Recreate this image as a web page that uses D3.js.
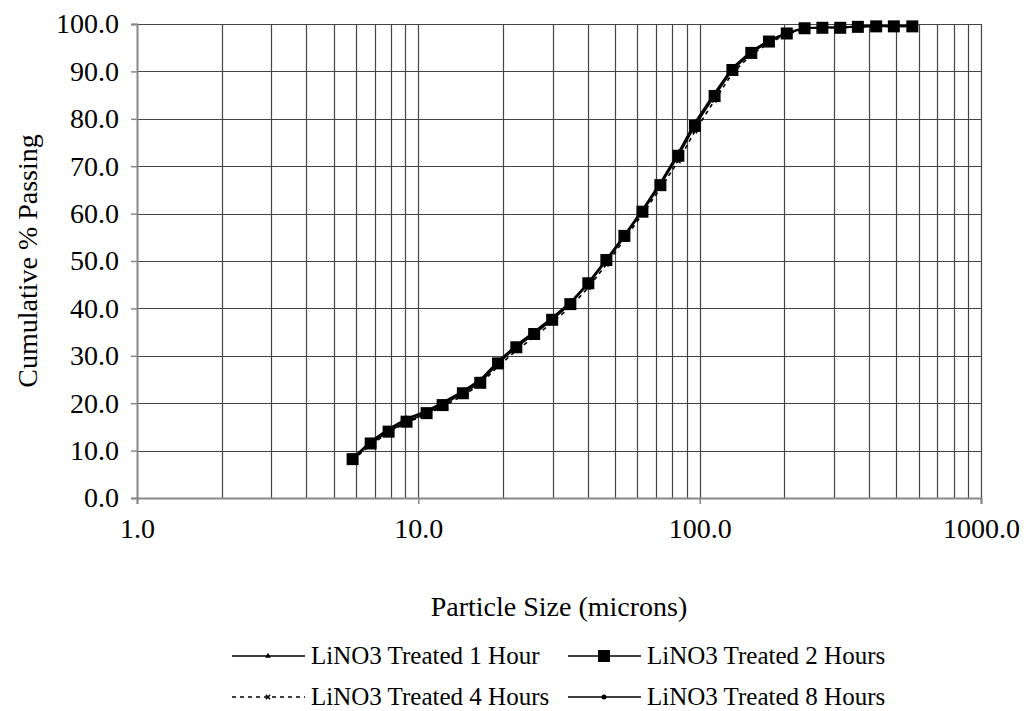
<!DOCTYPE html>
<html>
<head>
<meta charset="utf-8">
<script src="https://cdn.jsdelivr.net/npm/d3@7"></script>
<style>
  body { margin: 0; background: #fff; }
  svg text { font-family: "Times New Roman", "Liberation Serif", "DejaVu Serif", serif; fill: #000; }
</style>
</head>
<body>
<div id="chart"></div>
<script>
// particle sizes (microns), same for every run
var sizes = [5.84, 6.77, 7.84, 9.08, 10.7, 12.2, 14.4, 16.6, 19.2, 22.3, 25.8, 29.9, 34.7, 40.2, 46.6, 54.0,
  62.6, 72.5, 84.0, 96.2, 113, 130.7, 152.6, 176.3, 204, 236, 273, 316, 365, 424, 490, 570];

// cumulative % passing per treatment time
var hour1 = [8.4, 12.0, 14.6, 16.8, 18.4, 20.2, 22.6, 25.0, 28.9, 32.3, 35.1, 38.1, 41.3, 45.5, 50.4, 55.5,
  60.9, 66.6, 72.9, 79.3, 85.5, 90.8, 94.3, 96.6, 98.2, 99.2, 99.3, 99.3, 99.5, 99.6, 99.6, 99.6];
var hour2 = [8.2, 11.5, 14.0, 16.1, 17.9, 19.6, 22.1, 24.3, 28.4, 31.8, 34.6, 37.6, 40.9, 45.3, 50.2, 55.3,
  60.4, 66.0, 72.2, 78.5, 84.8, 90.3, 93.9, 96.3, 98.0, 99.1, 99.2, 99.2, 99.4, 99.5, 99.5, 99.5];
var hour4 = [8.0, 11.2, 13.8, 15.9, 17.6, 19.3, 21.6, 24.0, 27.8, 31.1, 34.0, 37.0, 40.3, 44.4, 49.3, 54.5,
  59.9, 65.3, 71.1, 77.4, 83.9, 89.6, 93.5, 96.0, 97.8, 99.0, 99.2, 99.2, 99.4, 99.5, 99.5, 99.5];
var hour8 = [8.3, 11.8, 14.3, 16.5, 18.2, 19.9, 22.4, 24.7, 28.6, 32.0, 34.8, 37.9, 41.1, 45.1, 50.0, 55.0,
  60.6, 66.3, 72.6, 78.9, 85.2, 90.6, 94.1, 96.4, 98.1, 99.1, 99.3, 99.3, 99.5, 99.6, 99.6, 99.6];

var seriesNames = ["LiNO3 Treated 1 Hour", "LiNO3 Treated 2 Hours", "LiNO3 Treated 4 Hours", "LiNO3 Treated 8 Hours"];
var xTicks = [1, 10, 100, 1000];
var yTicks = [0, 10, 20, 30, 40, 50, 60, 70, 80, 90, 100];

var fontName = "'Times New Roman', 'Liberation Serif', 'DejaVu Serif', serif";
var areaWidth = 1026;
var areaHeight = 711;
// plot box (window.top is taken, so use own names)
var plotLeft = 137, plotRight = 981, plotTop = 24, plotBottom = 498;

var svg = d3.select("#chart").append("svg")
  .attr("width", areaWidth)
  .attr("height", areaHeight);

var xScale = d3.scaleLog().domain([1, 1000]).range([plotLeft, plotRight]);
var yScale = d3.scaleLinear().domain([0, 100]).range([plotBottom, plotTop]);

// log grid: 1..9 in every decade
var minorX = [];
[1, 10, 100].forEach(function (dec) {
  for (var k = 1; k <= 9; k++) minorX.push(dec * k);
});
minorX.push(1000);

svg.append("g")
  .selectAll("line")
  .data(minorX.filter(function (d) { return d > 1; }))
  .enter()
  .append("line")
  .attr("x1", function (d) { return Math.round(xScale(d)) + 0.5; })
  .attr("x2", function (d) { return Math.round(xScale(d)) + 0.5; })
  .attr("y1", plotTop)
  .attr("y2", plotBottom)
  .style("stroke", "#444")
  .style("stroke-width", 1.2);

svg.append("g")
  .selectAll("line")
  .data(yTicks.filter(function (d) { return d > 0; }))
  .enter()
  .append("line")
  .attr("x1", plotLeft)
  .attr("x2", plotRight)
  .attr("y1", function (d) { return Math.round(yScale(d)) + 0.5; })
  .attr("y2", function (d) { return Math.round(yScale(d)) + 0.5; })
  .style("stroke", "#444")
  .style("stroke-width", 1.2);

// axes
var yAxis = d3.axisLeft(yScale)
  .tickValues(yTicks)
  .tickSize(6)
  .tickPadding(12)
  .tickFormat(d3.format(".1f"));

var xAxis = d3.axisBottom(xScale)
  .tickValues(xTicks)
  .tickSize(6)
  .tickPadding(14)
  .tickFormat(d3.format(".1f"));

var gy = svg.append("g").attr("transform", "translate(" + plotLeft + ",0)").call(yAxis);
var gx = svg.append("g").attr("transform", "translate(0," + plotBottom + ")").call(xAxis);

[gx, gy].forEach(function (g) {
  g.attr("font-family", null).attr("font-size", null);
  g.select(".domain").style("stroke", "#888").style("stroke-width", 2);
  g.selectAll(".tick line").style("stroke", "#888").style("stroke-width", 1.5);
  g.selectAll(".tick text")
    .style("font-size", "28px")
    .style("font-family", fontName)
    .style("fill", "#000");
});

// axis titles
svg.append("text")
  .text("Particle Size (microns)")
  .attr("x", (plotLeft + plotRight) / 2)
  .attr("y", 616)
  .attr("text-anchor", "middle")
  .style("font-family", fontName)
  .style("font-size", "28px");

svg.append("text")
  .text("Cumulative % Passing")
  .attr("transform", "translate(37," + ((plotTop + plotBottom) / 2) + ") rotate(-90)")
  .attr("text-anchor", "middle")
  .style("font-family", fontName)
  .style("font-size", "28px");

// series lines and markers
var allSeries = [hour1, hour2, hour4, hour8];
var dashes = [null, null, "4,4", null];

var line = d3.line()
  .x(function (d) { return xScale(d[0]); })
  .y(function (d) { return yScale(d[1]); });

function drawMarker(g, kind, x, y) {
  if (kind == 0) {
    g.append("path")
      .attr("d", d3.symbol().type(d3.symbolTriangle).size(14)())
      .attr("transform", "translate(" + x + "," + y + ")")
      .style("fill", "#000");
  } else if (kind == 1) {
    g.append("rect")
      .attr("x", x - 6).attr("y", y - 6)
      .attr("width", 12).attr("height", 12)
      .style("fill", "#000");
  } else if (kind == 2) {
    g.append("path")
      .attr("d", d3.symbol().type(d3.symbolX).size(14)())
      .attr("transform", "translate(" + x + "," + y + ")")
      .style("stroke", "#000")
      .style("stroke-width", 1.5)
      .style("fill", "none");
  } else {
    g.append("circle")
      .attr("cx", x).attr("cy", y).attr("r", 2.5)
      .style("fill", "#000");
  }
}

allSeries.forEach(function (vals, i) {
  var pts = sizes.map(function (s, j) { return [s, vals[j]]; });
  var g = svg.append("g");
  g.append("path")
    .datum(pts)
    .attr("d", line)
    .style("fill", "none")
    .style("stroke", "#000")
    .style("stroke-width", 1.6)
    .style("stroke-dasharray", dashes[i]);
  pts.forEach(function (p) {
    drawMarker(g, i, xScale(p[0]), yScale(p[1]));
  });
});

// legend
var legendX = [232, 568];
var legendY = [656, 697];

seriesNames.forEach(function (name, i) {
  var lx = legendX[i % 2];
  var ly = legendY[Math.floor(i / 2)];
  var g = svg.append("g");
  g.append("line")
    .attr("x1", lx).attr("x2", lx + 73)
    .attr("y1", ly).attr("y2", ly)
    .style("stroke", "#000")
    .style("stroke-width", 1.6)
    .style("stroke-dasharray", dashes[i]);
  drawMarker(g, i, lx + 36, ly);
  g.append("text")
    .text(name)
    .attr("x", lx + 79)
    .attr("y", ly + 8)
    .style("font-family", fontName)
    .style("font-size", "25px");
});
</script>
</body>
</html>
